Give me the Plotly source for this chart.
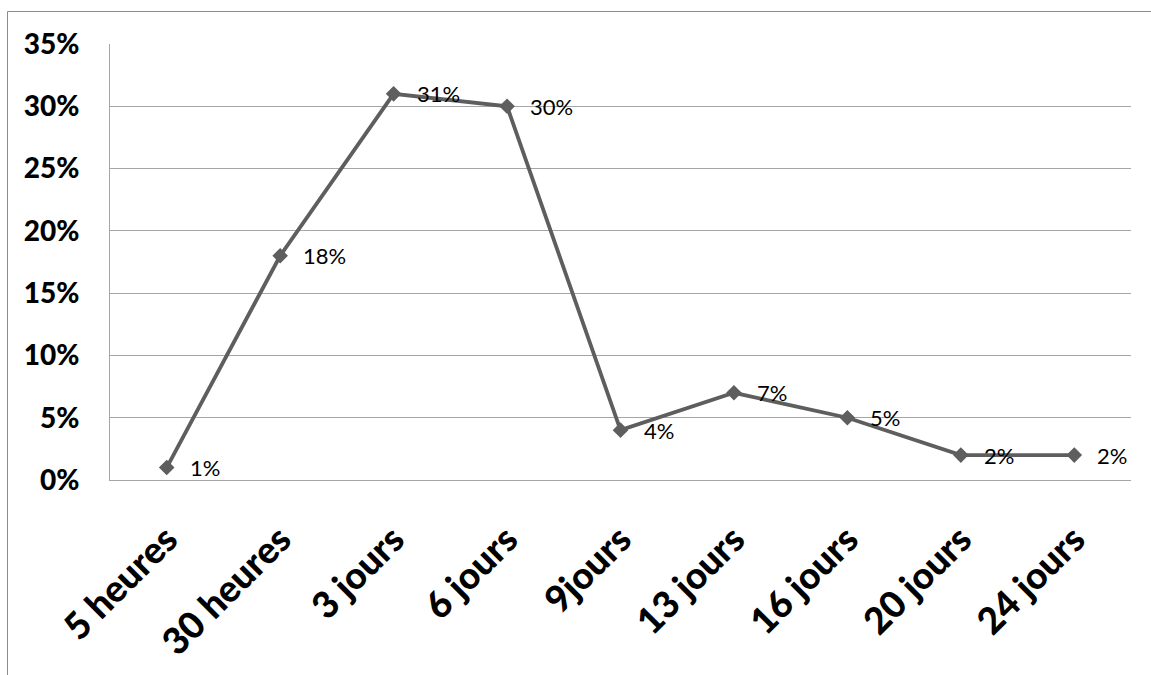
import plotly.graph_objects as go

# Durations and share of cases
categories = ["5 heures", "30 heures", "3 jours", "6 jours", "9jours",
              "13 jours", "16 jours", "20 jours", "24 jours"]
values = [0.01, 0.18, 0.31, 0.30, 0.04, 0.07, 0.05, 0.02, 0.02]
y_ticks = [0, 0.05, 0.10, 0.15, 0.20, 0.25, 0.30, 0.35]

W, H = 1151, 675
ML, MR, MT, MB = 110, 20, 44, 195
pw, ph = W - ML - MR, H - MT - MB

FONT = "Lato, 'Open Sans', sans-serif"
LINE = "#5e5e5e"
GRID = "#a6a6a6"

fig = go.Figure()
fig.add_trace(go.Scatter(
    x=categories, y=values, mode="lines+markers",
    line=dict(color=LINE, width=3.8),
    marker=dict(symbol="diamond", size=12, color=LINE),
    hoverinfo="skip", showlegend=False,
))

for c, v in zip(categories, values):
    fig.add_annotation(x=c, y=v, text=f"{round(v * 100)}%", showarrow=False,
                       xanchor="left", yanchor="middle", xshift=21, yshift=0,
                       font=dict(family=FONT, size=22, color="#000000"))

# outer chart frame (extends past the right and bottom edges)
def px_to_paper_x(px):
    return (px - ML) / pw

def px_to_paper_y(py):
    return 1 - (py - MT) / ph

fig.add_shape(type="line", xref="paper", yref="paper",
              x0=px_to_paper_x(7.5), x1=px_to_paper_x(7.5),
              y0=px_to_paper_y(11.5), y1=px_to_paper_y(H + 5),
              line=dict(color="#8c8c8c", width=1))
fig.add_shape(type="line", xref="paper", yref="paper",
              x0=px_to_paper_x(7.5), x1=px_to_paper_x(W + 5),
              y0=px_to_paper_y(11.5), y1=px_to_paper_y(11.5),
              line=dict(color="#8c8c8c", width=1))

fig.update_layout(
    width=W, height=H,
    margin=dict(l=ML, r=MR, t=MT, b=MB, autoexpand=False),
    paper_bgcolor="white", plot_bgcolor="white",
    font=dict(family=FONT, color="#000000"),
)
fig.update_xaxes(
    type="category", range=[-0.5, len(categories) - 0.5],
    tickangle=-45, tickfont=dict(family=FONT, size=37, color="#000000", weight=900),
    showline=True, linecolor=GRID, linewidth=1, showgrid=False,
    ticks="", ticklabelstandoff=22, fixedrange=True,
)
fig.update_yaxes(
    range=[0, 0.35], tickvals=y_ticks, tickformat=".0%",
    tickfont=dict(family=FONT, size=28, color="#000000", weight=900),
    showline=True, linecolor=GRID, linewidth=1,
    showgrid=True, gridcolor=GRID, gridwidth=1, zeroline=False,
    ticks="", ticklabelstandoff=24, fixedrange=True,
)

fig.write_html("out.html", config={"displayModeBar": False})
